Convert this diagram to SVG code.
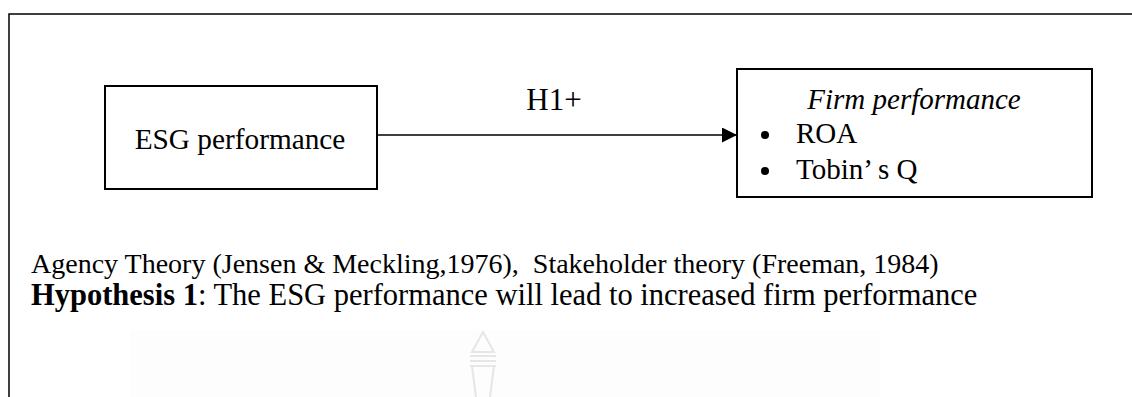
<svg xmlns="http://www.w3.org/2000/svg" width="1132" height="397" viewBox="0 0 1132 397">
  <style>
    .t { font-family: "Liberation Serif", "Times New Roman", serif; fill: #000; }
    .box { fill: #fff; stroke: #000; stroke-width: 2; }
    .wm { fill: none; stroke: #e6e6e6; stroke-width: 2; }
  </style>
  <defs>
    <marker id="arr" viewBox="0 0 15 15" refX="15" refY="7.5" markerWidth="15" markerHeight="15" markerUnits="userSpaceOnUse" orient="auto">
      <path d="M0,0 L15,7.5 L0,15 Z" fill="#000"/>
    </marker>
  </defs>
  <rect width="1132" height="397" fill="#fff"/>
  <g id="frame">
    <path d="M9,397 L9,14 L1132,14" fill="none" stroke="#000" stroke-width="1.5"/>
  </g>
  <g id="watermark">
    <rect x="130" y="330" width="750" height="67" fill="#fdfdfd"/>
    <path class="wm" d="M483,332 L472,352 L494,352 Z M470,356 L496,356 M470,361 L496,361 M470,366 L496,366 M472,366 L476,397 M494,366 L490,397"/>
  </g>
  <g id="node-esg">
    <rect class="box" x="105" y="86" width="272" height="103"/>
    <text class="t" x="240" y="149" font-size="29.3" text-anchor="middle">ESG performance</text>
  </g>
  <g id="node-firm">
    <rect class="box" x="737" y="69" width="355" height="128"/>
    <text class="t" x="914" y="109" font-size="29" font-style="italic" text-anchor="middle">Firm performance</text>
    <circle cx="765" cy="135" r="4"/>
    <text class="t" x="796" y="143" font-size="29">ROA</text>
    <circle cx="765" cy="171" r="4"/>
    <text class="t" x="796" y="179" font-size="29">Tobin’ s Q</text>
  </g>
  <g id="connectors">
    <line x1="377" y1="135" x2="737" y2="135" stroke="#000" stroke-width="1.5" marker-end="url(#arr)"/>
    <text class="t" x="554" y="110" font-size="31" text-anchor="middle">H1+</text>
  </g>
  <g id="notes">
    <text class="t" x="31" y="273" font-size="28" xml:space="preserve">Agency Theory (Jensen &amp; Meckling,1976),  Stakeholder theory (Freeman, 1984)</text>
    <text class="t" x="31" y="305" font-size="30.5"><tspan font-weight="bold">Hypothesis 1</tspan>: The ESG performance will lead to increased firm performance</text>
  </g>
</svg>
